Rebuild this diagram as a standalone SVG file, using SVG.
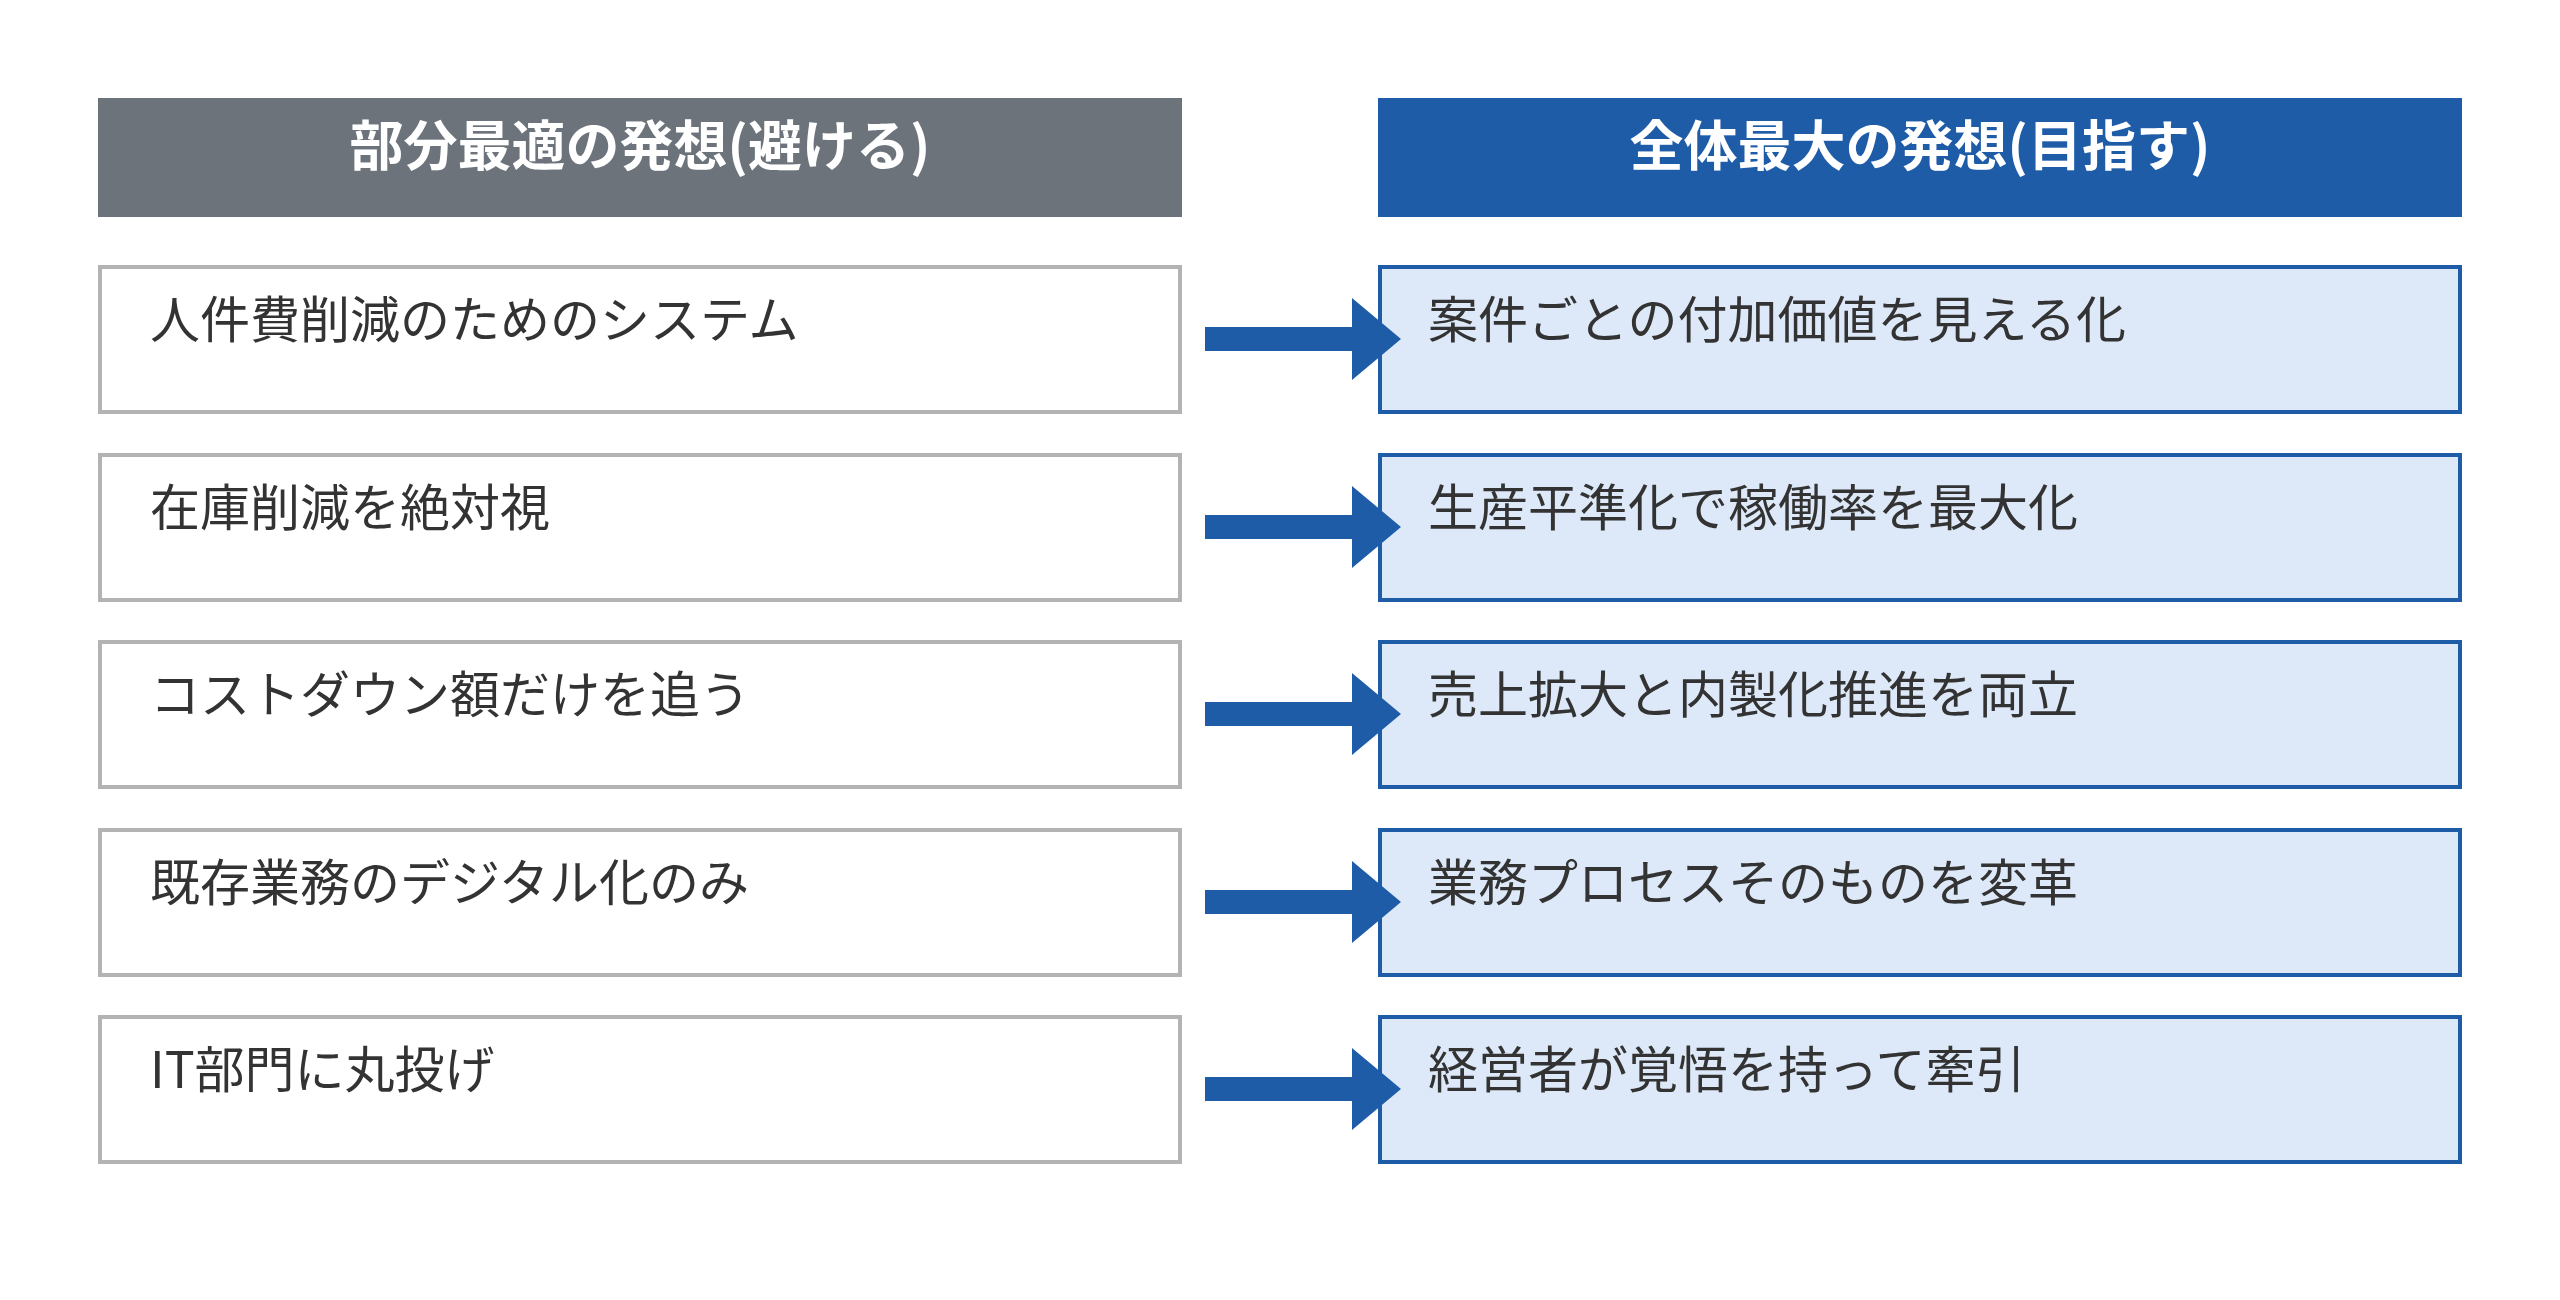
<svg xmlns="http://www.w3.org/2000/svg" width="2560" height="1300" viewBox="0 0 2560 1300">
<style>
text{font-family:"Noto Sans CJK JP","Noto Sans",sans-serif}
.h{font-size:54px;font-weight:bold;fill:#fff;text-anchor:middle}
.t{font-size:50px;fill:#333}
.l{fill:#fff;stroke:#b3b3b3;stroke-width:4}
.r{fill:#dde9f8;stroke:#1f5ca8;stroke-width:4}
.a{fill:#1f5ca8}
</style>
<rect width="2560" height="1300" fill="#fff"/>
<g id="hL"><rect x="98" y="98" width="1084" height="119" fill="#6c737b"/><text class="h" x="640" y="166">部分最適の発想(避ける)</text></g>
<g id="hR"><rect x="1378" y="98" width="1084" height="119" fill="#1f5ca8"/><text class="h" x="1920" y="166">全体最大の発想(目指す)</text></g>
<g id="L1"><rect class="l" x="100" y="267" width="1080" height="145"/><text class="t" x="150" y="338">人件費削減のためのシステム</text></g>
<g id="L2"><rect class="l" x="100" y="455" width="1080" height="145"/><text class="t" x="150" y="526">在庫削減を絶対視</text></g>
<g id="L3"><rect class="l" x="100" y="642" width="1080" height="145"/><text class="t" x="150" y="713">コストダウン額だけを追う</text></g>
<g id="L4"><rect class="l" x="100" y="830" width="1080" height="145"/><text class="t" x="150" y="901">既存業務のデジタル化のみ</text></g>
<g id="L5"><rect class="l" x="100" y="1017" width="1080" height="145"/><text class="t" x="150" y="1088">IT部門に丸投げ</text></g>
<g id="R1"><rect class="r" x="1380" y="267" width="1080" height="145"/><text class="t" x="1428" y="338">案件ごとの付加価値を見える化</text></g>
<g id="R2"><rect class="r" x="1380" y="455" width="1080" height="145"/><text class="t" x="1428" y="526">生産平準化で稼働率を最大化</text></g>
<g id="R3"><rect class="r" x="1380" y="642" width="1080" height="145"/><text class="t" x="1428" y="713">売上拡大と内製化推進を両立</text></g>
<g id="R4"><rect class="r" x="1380" y="830" width="1080" height="145"/><text class="t" x="1428" y="901">業務プロセスそのものを変革</text></g>
<g id="R5"><rect class="r" x="1380" y="1017" width="1080" height="145"/><text class="t" x="1428" y="1088">経営者が覚悟を持って牽引</text></g>
<g id="connectors">
<path class="a" d="M1205 327h147v-29l49 41-49 41v-29h-147z"/>
<path class="a" d="M1205 515h147v-29l49 41-49 41v-29h-147z"/>
<path class="a" d="M1205 702h147v-29l49 41-49 41v-29h-147z"/>
<path class="a" d="M1205 890h147v-29l49 41-49 41v-29h-147z"/>
<path class="a" d="M1205 1077h147v-29l49 41-49 41v-29h-147z"/>
</g>
</svg>
